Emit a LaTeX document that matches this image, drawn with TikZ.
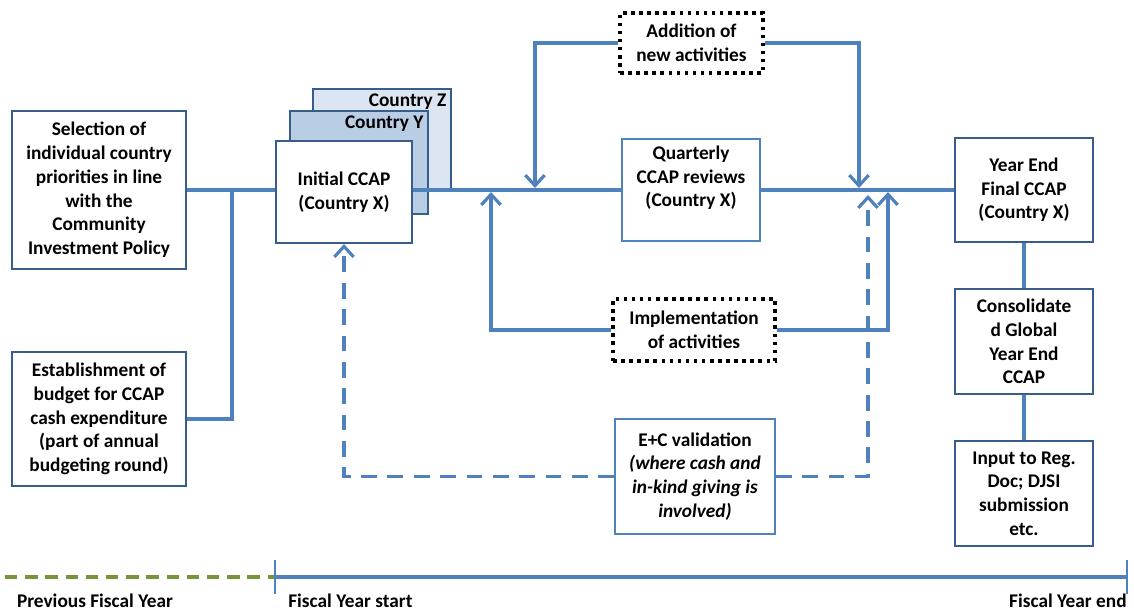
\documentclass[tikz,border=0pt]{standalone}
\usepackage{fontspec}
\setmainfont{Carlito}
\usepackage{tikz}
\usetikzlibrary{arrows.meta}
\definecolor{lineblue}{RGB}{79,129,189}
\definecolor{boxblue}{RGB}{56,93,138}
\definecolor{zfill}{RGB}{220,230,242}
\definecolor{yfill}{RGB}{185,205,229}
\definecolor{prevgreen}{RGB}{119,147,60}
\tikzstyle{box}=[draw=boxblue, line width=1.2pt, fill=white, align=center, inner sep=2pt, font=\bfseries\fontsize{11}{13.5}\selectfont]
\tikzstyle{actbox}=[box, draw=black, line width=2.2pt, dash pattern=on 2pt off 2.6pt]
\tikzstyle{flow}=[draw=lineblue, line width=1.8pt]
\tikzstyle{arr}=[flow, -{Straight Barb[length=6pt,width=11pt]}]
\tikzstyle{darr}=[arr, dash pattern=on 9pt off 6pt]
\tikzstyle{tlabel}=[font=\bfseries\fontsize{11}{13}\selectfont, inner sep=0pt]

\begin{document}
\begin{tikzpicture}[x=0.02cm, y=-0.02cm]
            \useasboundingbox (0,0) rectangle (1134,616);
            % Boxes
            \node[box, minimum width=3.48cm, minimum height=3.16cm] (sel) at (99,190) {Selection of\\individual country\\priorities in line\\with the\\Community\\Investment Policy};
            \node[box, minimum width=3.48cm, minimum height=2.68cm] (budget) at (99,419) {Establishment of\\budget for CCAP\\cash expenditure\\(part of annual\\budgeting round)};
            \node[box, fill=zfill, minimum width=2.76cm, minimum height=2.02cm, label={[anchor=north east, inner sep=3pt, font=\bfseries\fontsize{11}{13.5}\selectfont]north east:Country Z}] (ctryZ) at (382,139.5) {};
            \node[box, fill=yfill, minimum width=2.76cm, minimum height=2.06cm, label={[anchor=north east, inner sep=3pt, font=\bfseries\fontsize{11}{13.5}\selectfont]north east:Country Y}] (ctryY) at (359,162.5) {};
            \node[box, minimum width=2.76cm, minimum height=2.08cm] (yend) at (1024,190) {Year End\\Final CCAP\\(Country X)};
            \draw[flow] (sel) -- (yend);
            \node[box, minimum width=2.72cm, minimum height=2.04cm] (init) at (344,192) {Initial CCAP\\(Country X)};
            \node[box, draw=lineblue, line width=1pt, minimum width=2.76cm, minimum height=2.04cm] (quart) at (691,190) {\parbox[c][1.84cm][t]{2.6cm}{\centering\vspace{1pt}Quarterly\\CCAP reviews\\(Country X)}};
            \node[actbox, minimum width=2.86cm, minimum height=1.2cm] (addact) at (691.5,43) {Addition of\\new activities};
            \node[actbox, minimum width=3.24cm, minimum height=1.24cm] (impl) at (694,330) {Implementation\\of activities};
            \node[box, draw=lineblue, line width=1pt, minimum width=3.2cm, minimum height=2.3cm] (ecval) at (695,476.5) {E+C validation\\\textit{(where cash and}\\\textit{in-kind giving is}\\\textit{involved)}};
            \node[box, minimum width=2.76cm, minimum height=2.1cm] (consol) at (1024,341.5) {Consolidate\\d Global\\Year End\\CCAP};
            \node[box, minimum width=2.76cm, minimum height=2.1cm] (input) at (1024,493.5) {Input to Reg.\\Doc; DJSI\\submission\\etc.};
            % Connectors
            \coordinate (j1) at (232,190);
            \coordinate (a1) at (535,188);
            \coordinate (a2) at (859,188);
            \coordinate (a3) at (491,192);
            \coordinate (a4) at (888,192);
            \coordinate (a5) at (868,195);
            \draw[flow] (budget.east) -| (j1);
            \draw[arr] (addact.west) -| (a1);
            \draw[arr] (addact.east) -| (a2);
            \draw[arr] (impl.west) -| (a3);
            \draw[arr] (impl.east) -| (a4);
            \draw[darr] (ecval.west) -| (init.south);
            \draw[darr] (ecval.east) -| (a5);
            \draw[flow] (yend) -- (consol);
            \draw[flow] (consol) -- (input);
            % Time line
            \coordinate (prevstart) at (5,577);
            \coordinate (fystart) at (275,577);
            \coordinate (fyend) at (1127,577);
            \draw[draw=prevgreen, line width=2.2pt, dash pattern=on 7pt off 4.5pt] (prevstart) -- (fystart);
            \draw[draw=lineblue, line width=1.8pt] (fystart) -- (fyend);
            \draw[draw=lineblue, line width=1pt] (fystart) ++(0,-17) -- ++(0,34);
            \draw[draw=lineblue, line width=1pt] (fyend) ++(0,-17) -- ++(0,34);
            \node[tlabel] (lprev) at (95,601) {Previous Fiscal Year};
            \node[tlabel, anchor=west] (lstart) at (288,601) {Fiscal Year start};
            \node[tlabel, anchor=east] (lend) at (1127,601) {Fiscal Year end};
        \end{tikzpicture}
\end{document}
